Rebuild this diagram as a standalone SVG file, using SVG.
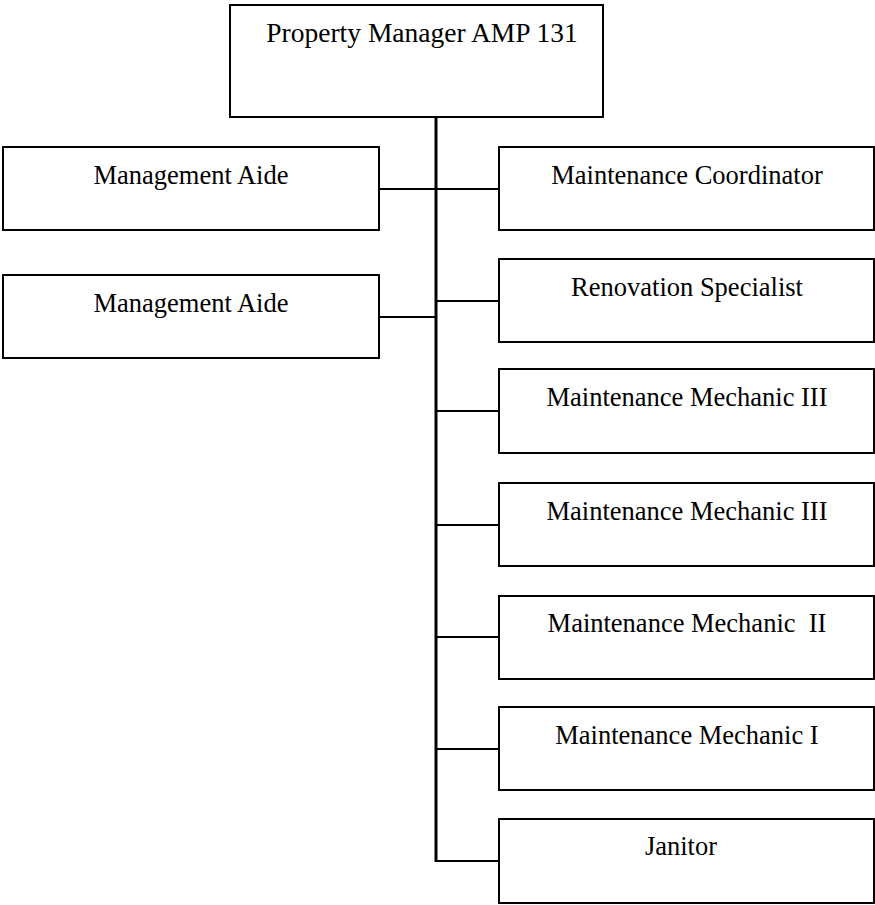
<svg xmlns="http://www.w3.org/2000/svg" width="875" height="905" viewBox="0 0 875 905">
<style>
.box{fill:#fff;stroke:#000;stroke-width:2}
.t{font-family:"Liberation Serif","Times New Roman",serif;font-size:26.5px;fill:#000;text-anchor:middle}
.c{stroke:#000;stroke-width:2;fill:none}
.trunk{stroke:#000;stroke-width:3;fill:none}
</style>
<rect width="875" height="905" fill="#fff"/>
<g id="connectors">
<line class="trunk" x1="436" y1="117" x2="436" y2="862"/>
<line class="c" x1="379" y1="189" x2="499" y2="189"/>
<line class="c" x1="379" y1="317" x2="436" y2="317"/>
<line class="c" x1="436" y1="301" x2="499" y2="301"/>
<line class="c" x1="436" y1="411" x2="499" y2="411"/>
<line class="c" x1="436" y1="525" x2="499" y2="525"/>
<line class="c" x1="436" y1="637" x2="499" y2="637"/>
<line class="c" x1="436" y1="749" x2="499" y2="749"/>
<line class="c" x1="436" y1="861" x2="499" y2="861"/>
</g>
<g id="pm"><rect class="box" x="230" y="5" width="373" height="112"/><text class="t" x="422" y="42" style="font-size:27.5px">Property Manager AMP 131</text></g>
<g id="ma1"><rect class="box" x="3" y="147" width="376" height="83"/><text class="t" x="191" y="184">Management Aide</text></g>
<g id="ma2"><rect class="box" x="3" y="275" width="376" height="83"/><text class="t" x="191" y="312">Management Aide</text></g>
<g id="mc"><rect class="box" x="499" y="147" width="375" height="83"/><text class="t" x="687" y="184">Maintenance Coordinator</text></g>
<g id="rs"><rect class="box" x="499" y="259" width="375" height="83"/><text class="t" x="687" y="296">Renovation Specialist</text></g>
<g id="mm3a"><rect class="box" x="499" y="369" width="375" height="84"/><text class="t" x="687" y="406">Maintenance Mechanic III</text></g>
<g id="mm3b"><rect class="box" x="499" y="483" width="375" height="83"/><text class="t" x="687" y="520">Maintenance Mechanic III</text></g>
<g id="mm2"><rect class="box" x="499" y="596" width="375" height="83"/><text class="t" x="687" y="632" xml:space="preserve">Maintenance Mechanic  II</text></g>
<g id="mm1"><rect class="box" x="499" y="707" width="375" height="83"/><text class="t" x="687" y="744">Maintenance Mechanic I</text></g>
<g id="jan"><rect class="box" x="499" y="819" width="375" height="84"/><text class="t" x="681" y="855">Janitor</text></g>
</svg>
